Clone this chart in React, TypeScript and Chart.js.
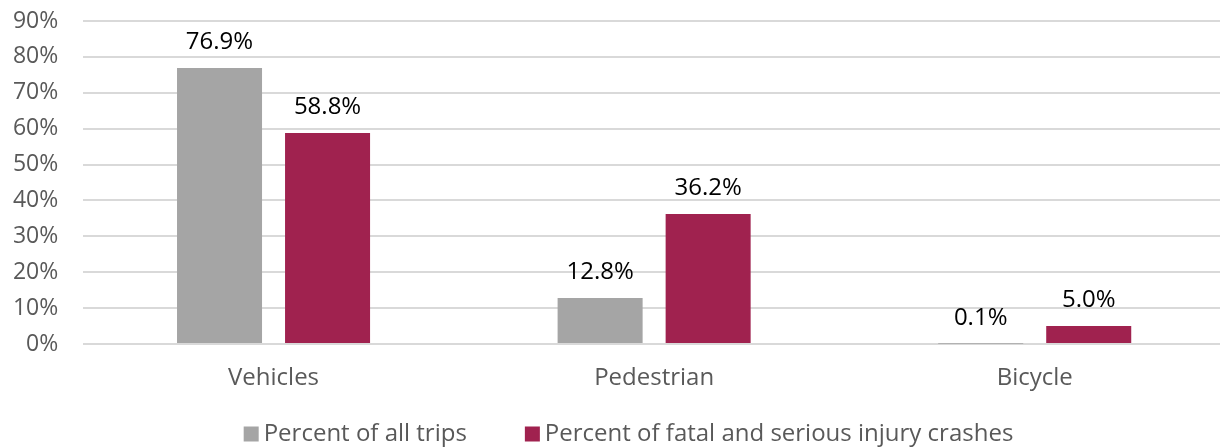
import React, { useEffect, useRef } from "react";
import { Chart, registerables } from "chart.js";

Chart.register(...registerables);

const categories = ["Vehicles", "Pedestrian", "Bicycle"];
const tripsPct = [76.9, 12.8, 0.1];
const crashPct = [58.8, 36.2, 5.0];
const seriesNames = ["Percent of all trips", "Percent of fatal and serious injury crashes"];
const seriesColors = ["#A5A5A5", "#A0224F"];
const yTickValues = [0, 10, 20, 30, 40, 50, 60, 70, 80, 90];

const FONT = "'Open Sans', 'Noto Sans', sans-serif";
const PLOT_LEFT = 83.25;
const PLOT_TOP = 21;
const PLOT_BOTTOM = 344;
const CANVAS_W = 1226;
const CANVAS_H = 448;

const dataLabelPlugin = {
  id: "dataLabels",
  afterDatasetsDraw(chart: any) {
    const ctx = chart.ctx;
    ctx.save();
    ctx.font = `24px ${FONT}`;
    ctx.fillStyle = "#000000";
    ctx.textAlign = "center";
    ctx.textBaseline = "alphabetic";
    chart.data.datasets.forEach((ds: any, di: number) => {
      const meta = chart.getDatasetMeta(di);
      meta.data.forEach((el: any, i: number) => {
        const v = ds.data[i] as number;
        ctx.fillText(v.toFixed(1) + "%", el.x, el.y - 19);
      });
    });
    ctx.restore();
  },
};

const legendPlugin = {
  id: "customLegend",
  afterDraw(chart: any) {
    const ctx = chart.ctx;
    ctx.save();
    ctx.font = `24px ${FONT}`;
    ctx.textBaseline = "middle";
    ctx.textAlign = "left";
    const box = 15;
    const gapBoxText = 5;
    const gapItems = 58;
    const items = chart.data.datasets.map((ds: any) => ({
      text: ds.label as string,
      color: ds.backgroundColor as string,
      w: ctx.measureText(ds.label).width,
    }));
    const total =
      items.reduce((s: number, it: any) => s + box + gapBoxText + it.w, 0) +
      gapItems * (items.length - 1);
    const centerX = 628.5;
    const cy = 434;
    let x = centerX - total / 2;
    items.forEach((it: any) => {
      ctx.fillStyle = it.color;
      ctx.fillRect(x, cy - box / 2, box, box);
      x += box + gapBoxText;
      ctx.fillStyle = "#595959";
      ctx.fillText(it.text, x, cy);
      x += it.w + gapItems;
    });
    ctx.restore();
  },
};

export default function App() {
  const ref = useRef<HTMLCanvasElement | null>(null);

  useEffect(() => {
    if (!ref.current) return;
    const chart = new Chart(ref.current, {
      type: "bar",
      data: {
        labels: categories,
        datasets: [
          {
            label: seriesNames[0],
            data: tripsPct,
            backgroundColor: seriesColors[0],
            categoryPercentage: 0.5677,
            barPercentage: 0.787,
          },
          {
            label: seriesNames[1],
            data: crashPct,
            backgroundColor: seriesColors[1],
            categoryPercentage: 0.5677,
            barPercentage: 0.787,
          },
        ],
      },
      options: {
        animation: false,
        responsive: false,
        maintainAspectRatio: false,
        devicePixelRatio: 1,
        layout: { padding: { left: 0, right: 1, top: PLOT_TOP, bottom: 0 } },
        plugins: {
          legend: { display: false },
          tooltip: { enabled: false },
        },
        scales: {
          x: {
            grid: { display: false, drawTicks: false },
            border: { display: false },
            ticks: {
              color: "#595959",
              font: { family: FONT, size: 24 },
              padding: 20,
            },
            afterFit(scale: any) {
              scale.height = CANVAS_H - PLOT_BOTTOM;
              scale.paddingLeft = 0;
              scale.paddingRight = 0;
            },
          },
          y: {
            min: 0,
            max: 90,
            afterBuildTicks(scale: any) {
              scale.ticks = yTickValues.map((v) => ({ value: v }));
            },
            grid: { color: "#D9D9D9", lineWidth: 2, drawTicks: false },
            border: { display: false },
            ticks: {
              color: "#595959",
              font: { family: FONT, size: 23 },
              padding: 25,
              callback: (v: any) => v + "%",
            },
            afterFit(scale: any) {
              scale.width = PLOT_LEFT;
              scale.paddingTop = 0;
              scale.paddingBottom = 0;
            },
          },
        },
      },
      plugins: [dataLabelPlugin, legendPlugin],
    });
    return () => chart.destroy();
  }, []);

  return (
    <div
      style={{
        position: "fixed",
        left: 0,
        top: 0,
        width: 1220,
        height: CANVAS_H,
        overflow: "hidden",
        background: "#ffffff",
      }}
    >
      <canvas ref={ref} width={CANVAS_W} height={CANVAS_H} style={{ display: "block", width: CANVAS_W, height: CANVAS_H }} />
    </div>
  );
}
